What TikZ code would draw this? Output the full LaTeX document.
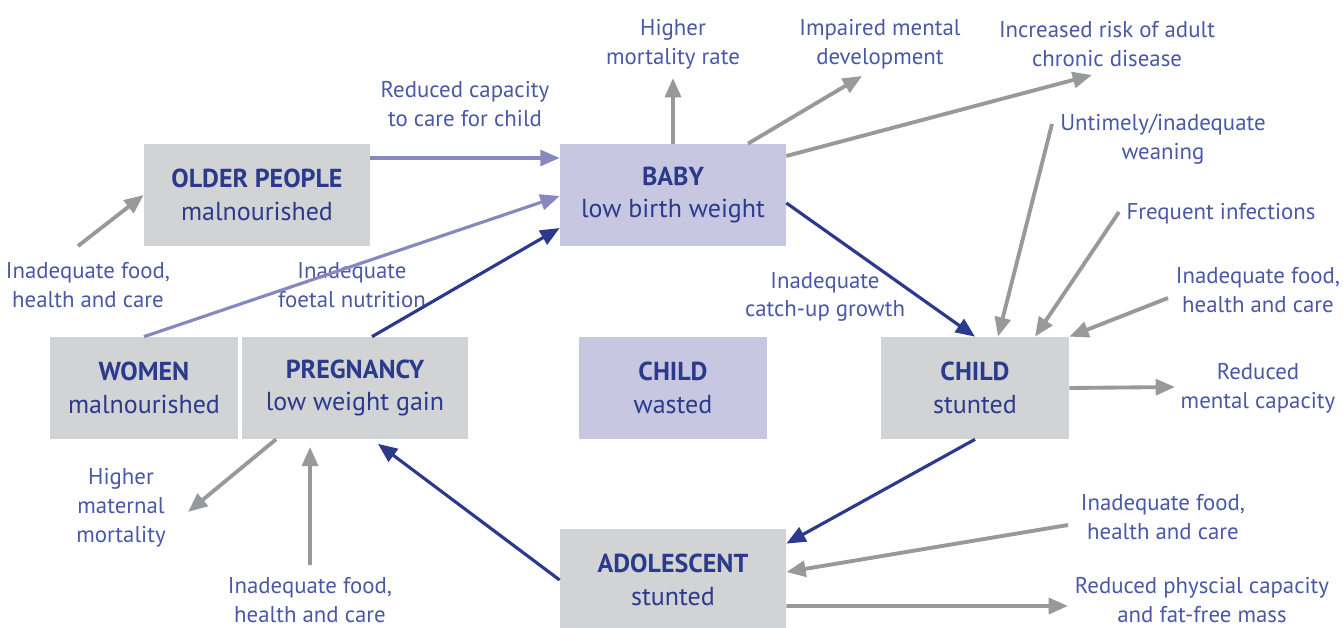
\documentclass[tikz,border=0pt]{standalone}
\usepackage{fontspec}
\setmainfont{PT Sans}
\usetikzlibrary{arrows.meta}
\definecolor{mynavy}{HTML}{2B3A8C}
\definecolor{mylabel}{HTML}{4A58A6}
\definecolor{mygrey}{HTML}{D1D3D4}
\definecolor{mylilac}{HTML}{C7C7E1}
\definecolor{myarrow}{HTML}{98999B}
\definecolor{mypurple}{HTML}{8788BF}
\tikzset{box/.style={fill=mygrey, minimum height=2.04cm, minimum width=4.52cm, inner sep=0pt, align=center, text=mynavy, font=\fontsize{14.8}{18.5}\selectfont}}
\tikzset{lilacbox/.style={box, fill=mylilac}}
\tikzset{narrowbox/.style={box, minimum width=3.76cm}}
\tikzset{lbl/.style={text=mylabel, align=center, inner sep=0pt, font=\fontsize{13}{16.4}\selectfont}}
\tikzset{greyarrow/.style={draw=myarrow, line width=2.2pt, -{Triangle[length=11pt,width=9pt]}}}
\tikzset{navyarrow/.style={draw=mynavy, line width=1.8pt, -{Triangle[length=11pt,width=9pt]}}}
\tikzset{lilacarrow/.style={draw=mypurple, line width=1.8pt, -{Triangle[length=11pt,width=9pt]}}}

\begin{document}
\begin{tikzpicture}[x=0.02cm, y=-0.02cm]
\path [use as bounding box, fill=white] (0,0) rectangle (1343,628);

% boxes
\node [box] (older) at (257,195) {\textbf{OLDER PEOPLE}\\malnourished};
\node [lilacbox] (baby) at (673,195) {\textbf{BABY}\\low birth weight};
\node [narrowbox] (women) at (144,388) {\textbf{WOMEN}\\malnourished};
\node [box] (preg) at (355,388) {\textbf{PREGNANCY}\\low weight gain};
\node [narrowbox, fill=mylilac] (wasted) at (673,388) {\textbf{CHILD}\\wasted};
\node [narrowbox] (stunted) at (975,388) {\textbf{CHILD}\\stunted};
\node [box] (adol) at (673,580) {\textbf{ADOLESCENT}\\stunted};

% labels
\node [lbl] (care) at (465,104) {Reduced capacity\\to care for child};
\node [lbl] (foodold) at (88,285) {Inadequate food,\\health and care};
\node [lbl] (foetal) at (352,285) {Inadequate\\foetal nutrition};
\node [lbl] (catchup) at (825,297) {Inadequate\\catch-up growth};
\node [lbl] (mortality) at (673,44) {Higher\\mortality rate};
\node [lbl] (mental) at (880,44) {Impaired mental\\development};
\node [lbl] (chronic) at (1107,44) {Increased risk of adult\\chronic disease};
\node [lbl] (weaning) at (1163,139) {Untimely/inadequate\\weaning};
\node [lbl] (infect) at (1221,214) {Frequent infections};
\node [lbl] (foodchild) at (1258,290) {Inadequate food,\\health and care};
\node [lbl] (capacity) at (1258,388) {Reduced\\mental capacity};
\node [lbl] (foodadol) at (1163,517) {Inadequate food,\\health and care};
\node [lbl] (physical) at (1202,600) {Reduced physcial capacity\\and fat-free mass};
\node [lbl] (maternal) at (121,508) {Higher\\maternal\\mortality};
\node [lbl] (foodpreg) at (310,600) {Inadequate food,\\health and care};

% free ends
\coordinate (o1) at (78,246);
\coordinate (b1) at (673,78);
\coordinate (b2) at (862,76);
\coordinate (b3) at (1092,75);
\coordinate (c1) at (1052,124);
\coordinate (c2) at (1119,212);
\coordinate (c3) at (1168,298);
\coordinate (c4) at (1175,387);
\coordinate (a1) at (1068,525);
\coordinate (a2) at (1068,606);
\coordinate (p1) at (188,512);
\coordinate (p2) at (310,565);

% cycle
\draw [lilacarrow] ([yshift=0.74cm]older.east) -- ([yshift=0.74cm]baby.west);
\draw [lilacarrow] (women.north) -- ([yshift=-0.02cm]baby.west);
\draw [navyarrow] ([xshift=0.34cm]preg.north) -- ([yshift=-0.66cm]baby.west);
\draw [navyarrow] ([yshift=-0.16cm]baby.east) -- (stunted.north);
\draw [navyarrow] (stunted.south) -- ([yshift=-0.3cm]adol.north east);
\draw [navyarrow, shorten >=0.15cm] (adol.west) -- ([xshift=0.34cm]preg.south);

% causes and effects
\draw [greyarrow] (o1) -- (older.west);
\draw [greyarrow] (baby.north) -- (b1);
\draw [greyarrow] ([xshift=1.5cm]baby.north) -- (b2);
\draw [greyarrow] ([yshift=0.78cm]baby.east) -- (b3);
\draw [greyarrow] (c1) -- ([xshift=0.46cm]stunted.north);
\draw [greyarrow] (c2) -- ([xshift=1.2cm]stunted.north);
\draw [greyarrow] (c3) -- (stunted.north east);
\draw [greyarrow] (stunted.east) -- (c4);
\draw [greyarrow] (a1) -- ([yshift=0.16cm]adol.east);
\draw [greyarrow] ([yshift=-0.52cm]adol.east) -- (a2);
\draw [greyarrow] ([xshift=-1.58cm]preg.south) -- (p1);
\draw [greyarrow, shorten >=0.15cm] (p2) -- ([xshift=-0.9cm]preg.south);
\end{tikzpicture}
\end{document}
